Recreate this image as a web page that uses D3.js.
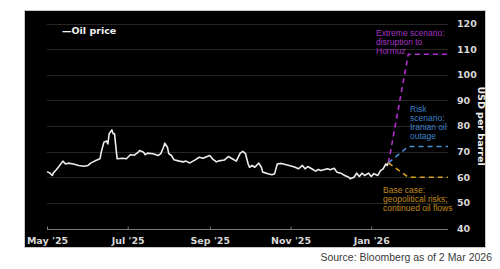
<!DOCTYPE html>
<html>
<head>
<meta charset="utf-8">
<script src="https://cdn.jsdelivr.net/npm/d3@7"></script>
<style>
  body { margin: 0; background: #fff; }
  svg { display: block; }
</style>
</head>
<body>
<svg id="chart" width="500" height="269"></svg>
<script>
// oil price history (USD per barrel)
const priceDates = [
  "2025-05-01","2025-05-03","2025-05-05","2025-05-06","2025-05-08","2025-05-10","2025-05-13","2025-05-15",
  "2025-05-17","2025-05-21","2025-05-25","2025-05-29","2025-06-01","2025-06-03","2025-06-06","2025-06-10",
  "2025-06-11","2025-06-13","2025-06-15","2025-06-16","2025-06-17","2025-06-19","2025-06-20","2025-06-21",
  "2025-06-23","2025-06-27","2025-06-30","2025-07-03","2025-07-06","2025-07-09","2025-07-10","2025-07-13",
  "2025-07-14","2025-07-16","2025-07-20","2025-07-24","2025-07-26","2025-07-28","2025-07-29","2025-07-31",
  "2025-08-01","2025-08-03","2025-08-05","2025-08-09","2025-08-12","2025-08-14","2025-08-17","2025-08-21",
  "2025-08-24","2025-08-27","2025-08-30","2025-09-01","2025-09-03","2025-09-06","2025-09-08","2025-09-12",
  "2025-09-15","2025-09-18","2025-09-21","2025-09-24","2025-09-26","2025-09-28","2025-09-30","2025-10-01",
  "2025-10-03","2025-10-05","2025-10-08","2025-10-10","2025-10-11","2025-10-15","2025-10-18","2025-10-20",
  "2025-10-22","2025-10-25","2025-10-28","2025-10-31","2025-11-04","2025-11-07","2025-11-10","2025-11-12",
  "2025-11-14","2025-11-17","2025-11-20","2025-11-22","2025-11-24","2025-11-26","2025-11-29","2025-12-01",
  "2025-12-04","2025-12-06","2025-12-09","2025-12-12","2025-12-15","2025-12-16","2025-12-19","2025-12-21",
  "2025-12-23","2025-12-25","2025-12-27","2025-12-30","2026-01-01","2026-01-03","2026-01-06","2026-01-08",
  "2026-01-10","2026-01-12","2026-01-13","2026-01-14"
]
const prices = [
  62.2,61.7,60.7,61.8,62.9,64.2,66.3,65.2,
  65.5,65.2,64.6,64.3,64.6,65.5,66.3,67.2,
  69.8,73.7,74.1,73.0,77.0,78.5,77.0,77.0,
  67.2,67.4,67.2,68.8,68.6,69.8,70.4,69.8,
  68.8,69.4,69.2,68.5,69.2,71.7,73.3,71.7,
  69.2,68.5,66.8,66.3,66.0,66.3,65.6,66.8,
  67.8,67.4,68.1,68.5,67.2,66.0,66.4,66.7,
  68.1,67.2,66.3,69.4,70.1,69.2,65.2,63.9,
  64.6,63.9,65.5,63.9,62.0,61.4,61.0,61.4,
  65.2,65.4,65.0,64.6,64.0,63.3,64.6,63.3,
  64.2,63.3,62.4,63.0,62.6,62.9,63.3,62.9,
  63.5,62.0,61.6,60.7,60.0,59.4,60.0,61.6,
  60.3,61.6,60.7,61.6,60.3,61.4,60.7,62.6,
  63.3,65.2,64.6,65.6
]

// scenarios
const scenarioDates = ["2026-01-14","2026-01-29","2026-02-28"]
const extremeCase = [65.6,108,108]
const riskCase = [65.6,72,72]
const baseCase = [65.6,60,60]

const yTicks = [40,50,60,70,80,90,100,110,120]

const svg = d3.select("#chart")
const parse = d3.utcParse("%Y-%m-%d")

// black panel
svg.append("rect")
  .attr("x", 24.5).attr("y", 10.5)
  .attr("width", 461).attr("height", 237)
  .attr("fill", "#000")
  .attr("stroke", "#c8c8c8")

const x = d3.scaleUtc()
  .domain([parse("2025-05-01"), parse("2026-02-28")])
  .range([47, 448])

const y = d3.scaleLinear()
  .domain([40, 120])
  .range([228.5, 23.5])

// gridlines
svg.append("g")
  .selectAll("line")
  .data(yTicks.filter(d => d > 40))
  .enter().append("line")
    .attr("x1", 47).attr("x2", 448)
    .attr("y1", d => Math.round(y(d)) + 0.5)
    .attr("y2", d => Math.round(y(d)) + 0.5)
    .attr("stroke", "#262626")
    .attr("stroke-width", 1)

// y labels on the right
svg.append("g")
  .selectAll("text")
  .data(yTicks)
  .enter().append("text")
    .attr("x", 457)
    .attr("y", d => y(d))
    .attr("dy", "0.36em")
    .attr("fill", "#d8d8d8")
    .style("font", "bold 9.5px 'DejaVu Sans', sans-serif")
    .text(d => d)

svg.append("text")
  .attr("transform", "translate(478,126) rotate(90)")
  .attr("text-anchor", "middle")
  .attr("fill", "#f0f0f0")
  .style("font", "bold 9.5px 'DejaVu Sans', sans-serif")
  .text("USD per barrel")

// x axis
const xAxis = d3.axisBottom(x)
  .ticks(d3.utcMonth.every(2))
  .tickFormat(d3.utcFormat("%b '%y"))
  .tickSize(-3)
  .tickPadding(8)

const gx = svg.append("g")
  .attr("transform", "translate(0," + (Math.round(y(40)) + 0.5) + ")")
  .call(xAxis)
gx.select(".domain").attr("stroke", "#7a7a7a").attr("d", "M47,0H448")
gx.selectAll(".tick line").attr("stroke", "#7a7a7a")
gx.selectAll(".tick text")
  .attr("fill", "#d8d8d8")
  .style("font", "bold 9.5px 'DejaVu Sans', sans-serif")

// price line
const line = d3.line()
  .x(d => x(d[0]))
  .y(d => y(d[1]))

svg.append("path")
  .datum(priceDates.map((d, i) => [parse(d), prices[i]]))
  .attr("d", line)
  .attr("fill", "none")
  .attr("stroke", "#ececec")
  .attr("stroke-width", 1.6)
  .attr("stroke-linejoin", "round")

// scenario lines
const scenarios = [
  { values: extremeCase, color: "#b52fd0" },
  { values: riskCase, color: "#4b8fd6" },
  { values: baseCase, color: "#d9a021" }
]
svg.append("g")
  .selectAll("path")
  .data(scenarios)
  .enter().append("path")
    .attr("d", s => line(scenarioDates.map((d, i) => [parse(d), s.values[i]])))
    .attr("fill", "none")
    .attr("stroke", s => s.color)
    .attr("stroke-width", 1.6)
    .attr("stroke-dasharray", "5,4")

// annotations
const notes = [
  { x: 376, y: 36, color: "#a232c0", lines: ["Extreme scenario:", "disruption to", "Hormuz"] },
  { x: 410, y: 112, color: "#3f80c8", lines: ["Risk", "scenario:", "Iranian oil", "outage"] },
  { x: 383, y: 193, color: "#c08a1e", lines: ["Base case:", "geopolitical risks;", "continued oil flows"] }
]
notes.forEach(n => {
  const t = svg.append("text")
    .attr("fill", n.color)
    .style("font", "8.5px 'Liberation Sans', Arial, sans-serif")
  n.lines.forEach((l, i) => {
    t.append("tspan").attr("x", n.x).attr("y", n.y + i * 9).text(l)
  })
})

// legend
svg.append("text")
  .attr("x", 62).attr("y", 34)
  .attr("fill", "#f2f2f2")
  .style("font", "bold 9.5px 'DejaVu Sans', sans-serif")
  .text("\u2014Oil price")

// source
svg.append("text")
  .attr("x", 492).attr("y", 261)
  .attr("text-anchor", "end")
  .attr("fill", "#3a3a3a")
  .style("font", "10.5px 'Liberation Sans', Arial, sans-serif")
  .text("Source: Bloomberg as of 2 Mar 2026")
</script>
</body>
</html>
